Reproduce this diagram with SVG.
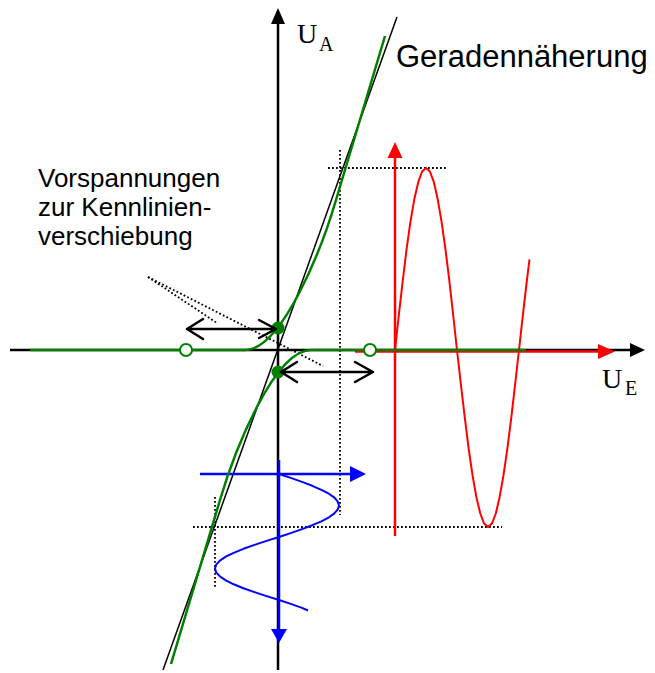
<svg xmlns="http://www.w3.org/2000/svg" width="655" height="673" viewBox="0 0 655 673">
<style>
.ax{stroke:#000;stroke-width:2.5;fill:none}
.thin{stroke:#000;stroke-width:1.5;fill:none}
.dot{stroke:#000;stroke-width:1.8;fill:none;stroke-dasharray:1.8 2.2}
.gr{stroke:#008000;stroke-width:2.5;fill:none}
.rd{stroke:#ff0000;fill:none}
.bl{stroke:#0000ff;fill:none}
.dbl{stroke:#000;stroke-width:2.5;fill:none;stroke-linecap:round;stroke-linejoin:round}
.lbl{font-family:"Liberation Sans",Arial,sans-serif;fill:#000}
.sym{font-family:"Liberation Serif","Times New Roman",serif;fill:#000}
</style>
<rect width="655" height="673" fill="#fff"/>
<g id="axes">
<line class="ax" x1="10" y1="350" x2="632" y2="350"/>
<polygon points="645,350 630,343 630,357" fill="#000"/>
<line class="ax" x1="278" y1="670" x2="278" y2="22"/>
<polygon points="278,8 271,24 285,24" fill="#000"/>
</g>
<g id="linear-approximation">
<line class="thin" x1="397" y1="17" x2="163" y2="670"/>
</g>
<g id="guides">
<line class="dot" x1="328" y1="168" x2="448" y2="168"/>
<line class="dot" x1="340" y1="150" x2="340" y2="515"/>
<line class="dot" x1="193" y1="527" x2="502" y2="527"/>
<line class="dot" x1="215" y1="497" x2="215" y2="588"/>
<line class="dot" x1="148" y1="277" x2="217" y2="323"/>
<line class="dot" x1="148" y1="277" x2="323" y2="366"/>
</g>
<g id="input-signal">
<line class="rd" stroke-width="2.5" x1="355" y1="351.5" x2="600" y2="351.5"/>
<polygon points="615,351.5 598,344 598,359" fill="#ff0000"/>
<line class="rd" stroke-width="2.5" x1="395" y1="536" x2="395" y2="156"/>
<polygon points="395,142 387.5,158 402.5,158" fill="#ff0000"/>
<polyline class="rd" stroke-width="2" stroke-linejoin="round" points="395,350 398.9,314.5 402.8,280.3 406.6,248.9 410.5,221.3 414.4,198.7 418.3,181.9 422.1,171.5 426,168 429.9,171.5 433.8,181.9 437.6,198.7 441.5,221.3 445.4,248.9 449.3,280.3 453.1,314.5 457,350 460.9,384.5 464.8,417.7 468.6,448.3 472.5,475.2 476.4,497.2 480.3,513.5 484.1,523.6 488,527 491.9,523.6 495.8,513.5 499.6,497.2 503.5,475.2 507.4,448.3 511.3,417.7 515.1,384.5 519,350 522.9,314.9 526.8,281.1 529.5,259.3"/>
</g>
<g id="output-signal">
<line class="bl" stroke-width="2.5" x1="279" y1="460" x2="279" y2="631"/>
<polygon points="279,643 271,629 287,629" fill="#0000ff"/>
<line class="bl" stroke-width="2.5" x1="200" y1="474" x2="352" y2="474"/>
<polygon points="366,474 350,466 350,482" fill="#0000ff"/>
<polyline class="bl" stroke-width="2" stroke-linejoin="round" points="279,474 290.7,477.9 302,481.9 312.3,485.8 321.4,489.8 328.9,493.7 334.4,497.6 337.8,501.6 339,505.5 337.8,509.4 334.4,513.4 328.9,517.3 321.4,521.3 312.3,525.2 302,529.1 290.7,533.1 279,537 266.5,540.9 254.5,544.9 243.4,548.8 233.7,552.8 225.8,556.7 219.9,560.6 216.2,564.6 215,568.5 216.2,572.4 219.9,576.4 225.8,580.3 233.7,584.3 243.4,588.2 254.5,592.1 266.5,596.1 279,600 290.7,603.9 302,607.9 308,610.5"/>
</g>
<g id="characteristic-upper">
<path class="gr" d="M30,350 L245,350 C282,350 322,248 336,200 L385,36"/>
<circle cx="278" cy="328" r="6.5" fill="#008000"/>
<circle cx="186" cy="350" r="6" fill="#fff" stroke="#008000" stroke-width="2"/>
</g>
<g id="characteristic-lower">
<path class="gr" d="M526,350 L311,350 C274,350 234,452 220,500 L171,664"/>
<circle cx="278" cy="372" r="6.5" fill="#008000"/>
<circle cx="370" cy="350" r="6" fill="#fff" stroke="#008000" stroke-width="2"/>
</g>
<g id="bias-arrows">
<path class="dbl" d="M187,329 L276,329 M203,319 L187,329 L203,339 M259,320 L276,329 L259,338"/>
<path class="dbl" d="M281,372 L373,372 M297,362 L281,372 L297,382 M355,362 L373,372 L355,382"/>
</g>
<g id="labels">
<text class="sym" x="297" y="43" font-size="28">U</text>
<text class="sym" x="319" y="51" font-size="20">A</text>
<text class="sym" x="602" y="388" font-size="28">U</text>
<text class="sym" x="625" y="395" font-size="20">E</text>
<text class="lbl" x="396" y="67" font-size="31">Geradennäherung</text>
<text class="lbl" font-size="26"><tspan x="38" y="187">Vorspannungen</tspan><tspan x="38" y="216">zur Kennlinien-</tspan><tspan x="38" y="245">verschiebung</tspan></text>
</g>
</svg>
